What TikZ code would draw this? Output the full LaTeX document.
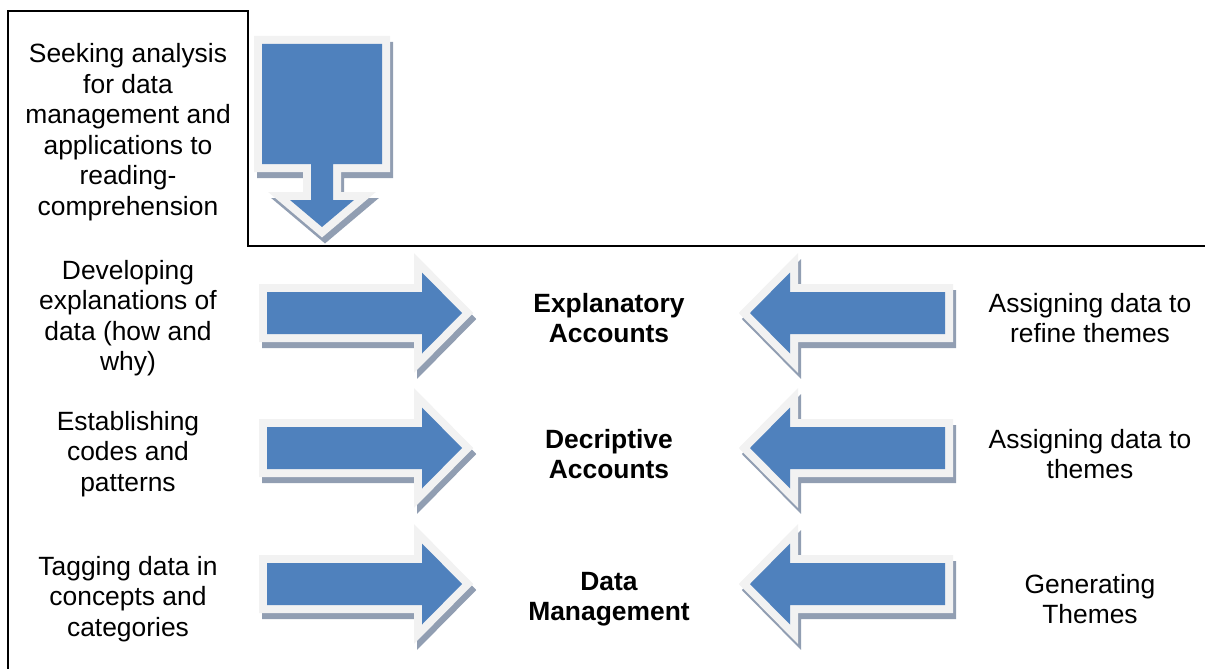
\documentclass[tikz,border=0pt]{standalone}
\usepackage{fontspec}
\setmainfont{Liberation Sans}
\usepackage{tikz}
\usepackage{xcolor}
\usetikzlibrary{positioning}

\definecolor{arrowblue}{HTML}{4F81BD}
\definecolor{arrowrim}{HTML}{F2F2F2}
\definecolor{arrowshade}{RGB}{145,158,178}

\tikzset{
  txt/.style={inner sep=0pt, align=center, font=\fontsize{26.4}{30.5}\selectfont},
  bold txt/.style={txt, font=\fontsize{26.4}{30.5}\selectfont\bfseries},
  shade layer/.style={fill=arrowshade, draw=arrowshade, line width=16pt, shift={(3,6)}},
  rim layer/.style={fill=arrowrim, draw=arrowrim, line width=16pt},
  blue layer/.style={fill=arrowblue}
}

% block arrow: tail x, centre y, direction (1 right, -1 left)
\newcommand{\arrowpath}[3]{(#1,#2-21) -- ++({(#3)*155},0) -- ++(0,-19.5) -- ++({(#3)*40},40.5) -- ++({-1*(#3)*40},40.5) -- ++(0,-19.5) -- ++({-1*(#3)*155},0) -- cycle}
\newcommand{\blockarrow}[3]{%
  \path[shade layer] \arrowpath{#1}{#2}{#3};
  \path[rim layer] \arrowpath{#1}{#2}{#3};
  \path[blue layer] \arrowpath{#1}{#2}{#3};
}
\newcommand{\downpath}{(262,44) -- (382,44) -- (382,164) -- (333,164) -- (333,200) -- (354,200) -- (322,227) -- (290,200) -- (311,200) -- (311,164) -- (262,164) -- cycle}

\begin{document}
\begin{tikzpicture}[x=1pt, y=-1pt]
  \useasboundingbox (0,0) rectangle (1205,669);

  % frame
  \draw[line width=2pt] (8,669) -- (8,11) -- (248,11) -- (248,246) -- (1205,246);

  % down arrow
  \path[shade layer] \downpath;
  \path[rim layer] \downpath;
  \path[blue layer] \downpath;

  % side arrows
  \blockarrow{267}{313}{1}
  \blockarrow{267}{448}{1}
  \blockarrow{267}{584}{1}
  \blockarrow{945}{313}{-1}
  \blockarrow{945}{448}{-1}
  \blockarrow{945}{584}{-1}

  \node[txt] (seek) at (128,132) {Seeking analysis\\for data\\management and\\applications to\\reading-\\comprehension};

  \node[txt] (l1) at (128,318) {Developing\\explanations of\\data (how and\\why)};
  \node[txt] (l2) at (128,454) {Establishing\\codes and\\patterns};
  \node[txt] (l3) at (128,599) {Tagging data in\\concepts and\\categories};

  \node[bold txt] (c1) at (609,318) {Explanatory\\Accounts};
  \node[bold txt] (c2) at (609,454) {Decriptive\\Accounts};
  \node[bold txt] (c3) at (609,599) {Data\\Management};

  \node[txt] (r1) at (1090,318) {Assigning data to\\refine themes};
  \node[txt] (r2) at (1090,454) {Assigning data to\\themes};
  \node[txt] (r3) at (1090,599) {Generating\\Themes};
\end{tikzpicture}
\end{document}
